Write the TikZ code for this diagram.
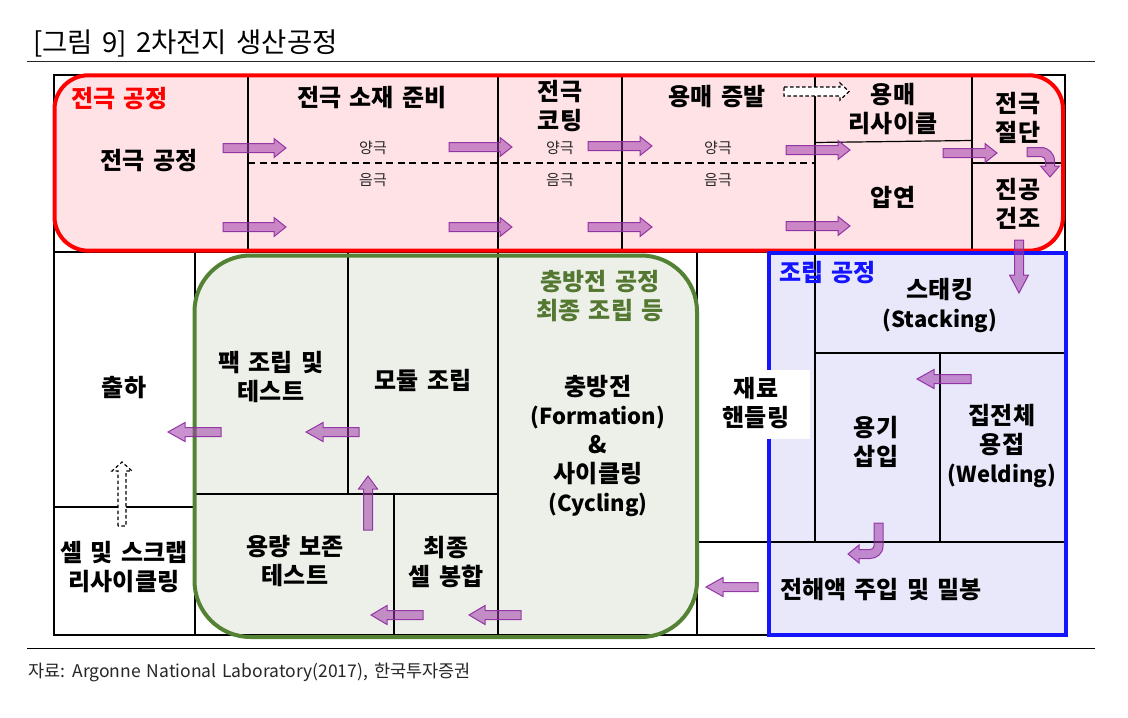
\documentclass[tikz,border=0pt]{standalone}
\usepackage{fontspec}
\setmainfont{Noto Sans CJK KR}
\newfontfamily\kr[WordSpace=1.7]{Noto Sans CJK KR}
\newfontfamily\krt[WordSpace=1.5]{Noto Sans CJK KR}
\definecolor{pinkf}{RGB}{255,226,230}
\definecolor{greenf}{RGB}{237,240,232}
\definecolor{bluef}{RGB}{232,232,250}
\definecolor{gline}{RGB}{84,130,53}
\definecolor{bline}{RGB}{20,20,255}
\definecolor{gtext}{RGB}{84,120,50}
\definecolor{pfill}{RGB}{160,60,170}
\definecolor{pline}{RGB}{140,40,160}
\newcommand{\lat}{\fontsize{22}{29}\selectfont}
\tikzset{
  lbl/.style={font=\kr\bfseries\fontsize{24}{29}\selectfont, align=center, inner sep=0pt},
  smalllbl/.style={font=\krt\fontsize{15}{18}\selectfont, text=black!85, inner sep=0pt},
  gridline/.style={line width=1.2pt, draw=black},
  parr/.style={fill=pfill, fill opacity=0.55, draw=pline, draw opacity=0.9, line width=1pt, line join=miter},
  harr/.style={draw=black, dash pattern=on 3.5pt off 2.5pt, line width=1.2pt, fill=white},
  pics/barr/.style n args={2}{code={
    \path[parr] (0,-4.5) -- ({#1-#2},-4.5) -- ({#1-#2},-9.5) -- (#1,0) -- ({#1-#2},9.5) -- ({#1-#2},4.5) -- (0,4.5) -- cycle;}},
}
\begin{document}
\begin{tikzpicture}[x=1pt,y=-1pt]
\useasboundingbox (0,0) rectangle (1128,718);
\fill[white] (0,0) rectangle (1128,718);

% title and rules
\node[font=\krt\fontsize{27.5}{30}\selectfont, anchor=base west, inner sep=0pt] (title) at (33,52) {[그림 9] 2차전지 생산공정};
\draw[line width=1.3pt, black!85] (27,61.5) -- (1095,61.5);
\draw[line width=1.6pt, black] (27,648.5) -- (1095,648.5);
\node[font=\krt\fontsize{17.5}{20}\selectfont, anchor=west, inner sep=0pt, text=black!85] (src) at (28,672) {자료: Argonne National Laboratory(2017),\hspace{6pt}한국투자증권};

% group fills
\fill[pinkf, rounded corners=34pt] (54.5,75.3) rectangle (1063,250.7);
\fill[greenf, rounded corners=56pt] (194.5,255.5) rectangle (697,637);
\fill[bluef] (769,253) rectangle (1066,634.7);

% table grid
\draw[gridline] (54,75) rectangle (1065,635);
\draw[gridline] (54,252) -- (1065,252);
\foreach \xx in {248,498,622,815,972} \draw[gridline] (\xx,75) -- (\xx,252);
\draw[gridline] (815,142.5) -- (972,140.5);
\draw[gridline] (972,163) -- (1065,163);
\draw[line width=1.2pt, dash pattern=on 7pt off 4.5pt] (248,163) -- (815,163);
\draw[gridline] (195,252) -- (195,635);
\draw[gridline] (348,252) -- (348,494);
\draw[gridline] (394,494) -- (394,635);
\draw[gridline] (498,252) -- (498,635);
\draw[gridline] (697,252) -- (697,635);
\draw[gridline] (815,252) -- (815,542);
\draw[gridline] (940,353) -- (940,542);
\draw[gridline] (54,507) -- (195,507);
\draw[gridline] (195,494) -- (498,494);
\draw[gridline] (697,542) -- (1065,542);
\draw[gridline] (815,353) -- (1065,353);

% group borders
\draw[red, line width=4pt, rounded corners=34pt] (54.5,75.3) rectangle (1063,250.7);
\draw[gline, line width=4pt, rounded corners=56pt] (194.5,255.5) rectangle (697,637);
\draw[bline, line width=4pt] (769,253) rectangle (1066,634.7);

% straight block arrows
\pic at (223,148) {barr={63}{12}};
\pic at (223,227) {barr={63}{12}};
\pic at (449,147) {barr={63}{12}};
\pic at (449,227) {barr={63}{12}};
\pic at (588,146) {barr={64}{12}};
\pic at (588,227) {barr={64}{12}};
\pic at (786,150) {barr={64}{12}};
\pic at (786,226) {barr={64}{12}};
\pic at (943,153) {barr={54}{12}};
\pic[rotate=-90] at (1019,240) {barr={53}{18}};
\pic[rotate=180] at (971,379) {barr={54}{17}};
\pic[rotate=180] at (758,587) {barr={52}{17}};
\pic[rotate=180] at (221,432) {barr={53}{17}};
\pic[rotate=180] at (359,432) {barr={53}{17}};
\pic[rotate=180] at (423,615) {barr={52}{16}};
\pic[rotate=180] at (521,615) {barr={52}{16}};
\pic[rotate=90] at (368,530) {barr={54}{13}};

% bent arrows
\path[parr] (1027,147.5) -- (1041,147.5) .. controls (1048.5,147.5) and (1054.5,153.5) .. (1054.5,161) -- (1054.5,166) -- (1059.5,166) -- (1050,177) -- (1040.5,166) -- (1045.5,166) -- (1045.5,161) .. controls (1045.5,158.5) and (1043.5,156.5) .. (1041,156.5) -- (1027,156.5) -- cycle;
\path[parr] (874,523) -- (883,523) -- (883,546) .. controls (883,553.5) and (877,558.5) .. (870,558.5) -- (859,558.5) -- (859,563) -- (848,554) -- (859,545) -- (859,549.5) -- (870,549.5) .. controls (872,549.5) and (874,548) .. (874,546) -- cycle;

% hollow dashed arrows
\path[harr] (784,87) -- (840,87) -- (840,83) -- (849,91.5) -- (840,100) -- (840,96) -- (784,96) -- cycle;
\path[harr] (118,526) -- (118,471) -- (112,471) -- (122,462) -- (132,471) -- (126,471) -- (126,526) -- cycle;

% top row labels
\node[lbl, text=red, anchor=west] (gElec) at (71,99) {전극 공정};
\node[lbl] (nElec) at (149,161) {전극 공정};
\node[lbl] (nPrep) at (372,98) {전극 소재 준비};
\node[lbl] (nCoat) at (560,106) {전극\\코팅};
\node[lbl] (nEvap) at (717,97) {용매 증발};
\node[lbl] (nRecy) at (893,109) {용매\\리사이클};
\node[lbl] (nPress) at (893,197) {압연};
\node[lbl] (nCut) at (1018,118) {전극\\절단};
\node[lbl] (nDry) at (1018,204) {진공\\건조};
\foreach \xx/\nm in {373/a,560/b,718/c} {
  \node[smalllbl] (pos\nm) at (\xx,148) {양극};
  \node[smalllbl] (neg\nm) at (\xx,180) {음극};
}

% lower labels
\node[lbl] (nShip) at (124,388) {출하};
\node[lbl] (nScrap) at (124,567) {셀 및 스크랩\\리사이클링};
\node[lbl] (nPack) at (271,377) {팩 조립 및\\테스트};
\node[lbl] (nMod) at (423,380) {모듈 조립};
\node[lbl] (nCap) at (295,561) {용량 보존\\테스트};
\node[lbl] (nSeal) at (446,562) {최종\\셀 봉합};
\node[lbl, text=gtext] (gForm) at (600,296) {충방전 공정\\최종 조립 등};
\node[lbl] (nForm) at (598,446) {충방전\\{\lat (Formation)}\\\&\\사이클링\\{\lat (Cycling)}};
\fill[white] (719,370) rectangle (810,439);
\node[lbl] (nMat) at (756,403) {재료\\핸들링};
\node[lbl, text=bline, anchor=west] (gAsm) at (779,273) {조립 공정};
\node[lbl] (nStack) at (940,305) {스태킹\\{\lat (Stacking)}};
\node[lbl] (nCan) at (876,442) {용기\\삽입};
\node[lbl] (nWeld) at (1002,446) {집전체\\용접\\{\lat (Welding)}};
\node[lbl] (nFill) at (881,590) {전해액 주입 및 밀봉};
\end{tikzpicture}
\end{document}
